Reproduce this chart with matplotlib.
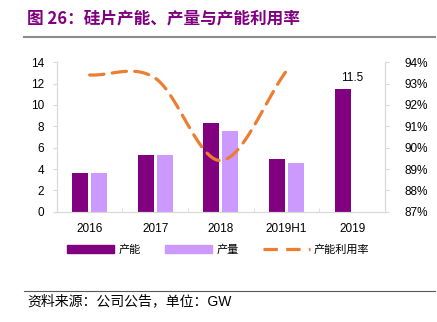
import numpy as np
import matplotlib.pyplot as plt
from matplotlib.lines import Line2D

plt.rcParams['font.family'] = ['Liberation Sans', 'Noto Sans CJK SC', 'DejaVu Sans']

categories = ['2016', '2017', '2018', '2019H1', '2019']
capacity = [3.6, 5.3, 8.3, 4.9, 11.5]
output = [3.6, 5.3, 7.6, 4.6, np.nan]
util = [93.4, 93.25, 89.4, 93.6]  # %, through 2019H1


def smooth(xs, ys, steps=40):
    # Catmull-Rom curve through the points, like Excel's smoothed line
    xs = np.asarray(xs, float)
    ys = np.asarray(ys, float)
    px = np.concatenate([[2 * xs[0] - xs[1]], xs, [2 * xs[-1] - xs[-2]]])
    py = np.concatenate([[2 * ys[0] - ys[1]], ys, [2 * ys[-1] - ys[-2]]])
    out_x, out_y = [], []
    t = np.linspace(0, 1, steps)
    for i in range(1, len(px) - 2):
        for p, out in ((px, out_x), (py, out_y)):
            p0, p1, p2, p3 = p[i - 1], p[i], p[i + 1], p[i + 2]
            out.extend(0.5 * (2 * p1 + (-p0 + p2) * t
                              + (2 * p0 - 5 * p1 + 4 * p2 - p3) * t**2
                              + (-p0 + 3 * p1 - 3 * p2 + p3) * t**3))
    return np.array(out_x), np.array(out_y)


fig = plt.figure(figsize=(4.37, 3.22), dpi=100)
ax = fig.add_axes([0.130, 0.342, 0.751, 0.465])
ax2 = ax.twinx()

x = np.arange(len(categories))
w = 0.245
dark = '#800080'
light = '#CC99FF'
orange = '#ED7D31'
ax.bar(x - 0.145, capacity, w, color=dark, zorder=2)
ax.bar(x + 0.145, output, w, color=light, zorder=2)
ax.text(x[-1], capacity[-1] + 0.5, '11.5', ha='center', va='bottom', fontsize=8.5)

sx, sy = smooth(x[:len(util)], util)
ax2.plot(sx, sy, color=orange, lw=2.3, ls=(0, (4.5, 2.6)), dash_capstyle='round')

ax.set_xlim(-0.5, len(categories) - 0.5)
ax.set_ylim(0, 14)
ax.set_yticks(range(0, 15, 2))
ax2.set_ylim(87, 94)
ax2.set_yticks(range(87, 95))
ax2.set_yticklabels([f'{v}%' for v in range(87, 95)])
ax.set_xticks(x)
ax.set_xticklabels(categories)
ax.set_xticks(np.arange(-0.5, len(categories), 1), minor=True)
ax.tick_params(axis='x', which='major', length=0, pad=8, labelsize=8.5)
ax.tick_params(axis='x', which='minor', length=3, color='#D9D9D9', direction='in')
ax.tick_params(axis='y', length=3, color='#D9D9D9', labelsize=8.5, pad=6)
ax2.tick_params(axis='y', length=3, color='#D9D9D9', labelsize=8.5, pad=11)

for a in (ax, ax2):
    a.spines['top'].set_visible(False)
    for s in ('left', 'right', 'bottom'):
        a.spines[s].set_color('#D9D9D9')

handles = [plt.Rectangle((0, 0), 1, 1, color=dark),
           plt.Rectangle((0, 0), 1, 1, color=light),
           Line2D([], [], color=orange, lw=2.3, ls=(0, (4.5, 2.6)))]
fig.legend(handles, ['产能', '产量', '产能利用率'], loc='center', bbox_to_anchor=(0.5, 0.225),
           ncol=3, frameon=False, handlelength=4.2, handleheight=0.8,
           columnspacing=2.2, handletextpad=0.4,
           prop={'family': ['Noto Sans CJK SC'], 'size': 8})

fig.text(0.062, 0.943, '图 26：硅片产能、产量与产能利用率', color='#800080', fontsize=12,
         fontweight='bold', va='center', family=['Noto Sans CJK SC'])
fig.add_artist(Line2D([0.055, 0.995], [0.885, 0.885], color='#8C8C8C', lw=1.5))
fig.add_artist(Line2D([0.055, 0.995], [0.097, 0.097], color='#595959', lw=0.8))
fig.text(0.062, 0.063, '资料来源：公司公告，单位：GW', fontsize=10, va='center',
         family=['Liberation Sans', 'Noto Sans CJK SC', 'DejaVu Sans'])

fig.savefig('out.png', dpi=100)
